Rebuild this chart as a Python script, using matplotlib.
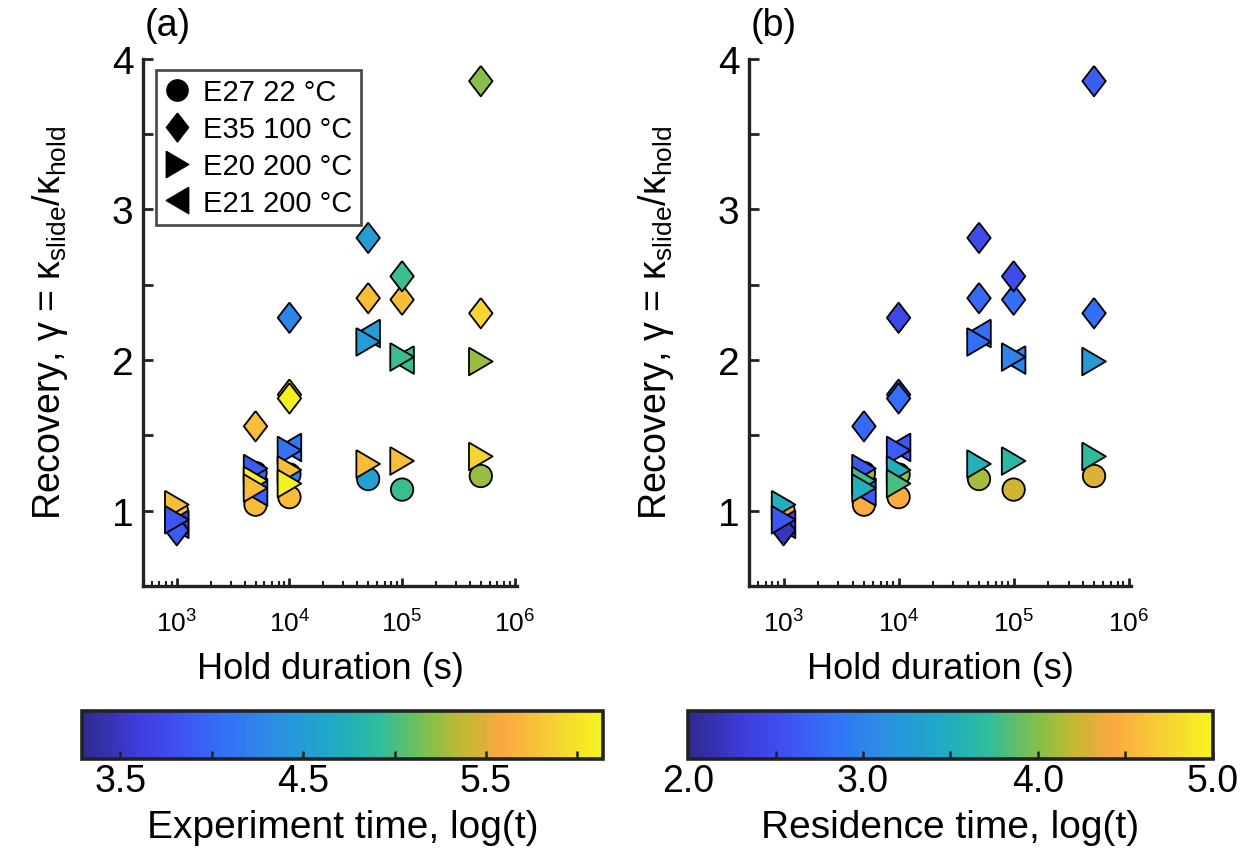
import matplotlib
matplotlib.use("Agg")
import matplotlib.pyplot as plt
from matplotlib.colors import LinearSegmentedColormap, Normalize
from matplotlib.cm import ScalarMappable
from matplotlib.lines import Line2D
from matplotlib.ticker import LogLocator, FixedLocator, FixedFormatter, NullFormatter

plt.rcParams['font.family'] = ['Liberation Sans', 'DejaVu Sans']
plt.rcParams['mathtext.fontset'] = 'custom'
plt.rcParams['mathtext.rm'] = 'Liberation Sans'
plt.rcParams['mathtext.it'] = 'Liberation Sans:italic'
plt.rcParams['mathtext.default'] = 'regular'

# E27 22 C (circles)
e27_hold = [1e3, 5e3, 5e3, 1e4, 1e4, 5e4, 1e5, 5e5]
e27_rec = [1.00, 1.04, 1.25, 1.09, 1.24, 1.21, 1.14, 1.23]
e27_exp = [5.75, 5.72, 3.95, 5.72, 4.20, 4.55, 4.95, 5.25]
e27_res = [4.45, 4.45, 4.05, 4.45, 4.05, 4.10, 4.25, 4.30]

# E21 200 C (left triangles)
e21_hold = [1e3, 5e3, 1e4, 5e4, 1e5]
e21_rec = [0.91, 1.125, 1.42, 2.176, 2.00]
e21_exp = [3.60, 3.95, 4.15, 4.50, 4.95]
e21_res = [2.30, 2.60, 2.60, 2.80, 3.00]

# E35 100 C (diamonds)
e35_hold = [1e3, 5e3, 1e4, 1e4, 1e4, 5e4, 5e4, 1e5, 1e5, 5e5, 5e5]
e35_rec = [0.87, 1.56, 1.77, 1.745, 2.28, 2.41, 2.81, 2.40, 2.555, 2.31, 3.85]
e35_exp = [3.90, 5.75, 5.75, 6.10, 4.25, 5.75, 4.50, 5.75, 4.95, 5.90, 5.20]
e35_res = [2.20, 2.75, 2.60, 2.80, 2.45, 2.75, 2.50, 2.80, 2.50, 2.80, 2.65]

# E20 200 C (right triangles)
e20_hold = [1e3, 1e3, 5e3, 5e3, 5e3, 1e4, 1e4, 1e4, 5e4, 5e4, 1e5, 1e5, 5e5, 5e5]
e20_rec = [1.04, 0.94, 1.28, 1.20, 1.15, 1.40, 1.27, 1.18, 2.12, 1.31, 2.02, 1.33, 1.99, 1.36]
e20_exp = [5.75, 3.85, 3.90, 6.10, 5.72, 4.10, 5.75, 6.10, 4.50, 5.75, 4.95, 5.75, 5.25, 5.90]
e20_res = [3.50, 2.60, 2.60, 3.75, 3.50, 2.65, 3.50, 3.80, 2.80, 3.55, 3.00, 3.65, 3.25, 3.70]

legend_labels = ['E27 22 °C', 'E35 100 °C', 'E20 200 °C', 'E21 200 °C']

# parula-like colormap
cmap = LinearSegmentedColormap.from_list('parula_like', [
    (0.00, '#2e2a8c'), (0.10, '#3d3bd9'), (0.18, '#4050f0'), (0.27, '#3470f8'),
    (0.38, '#2a92e0'), (0.48, '#1ea9c8'), (0.57, '#2fbc9c'), (0.66, '#7cc050'),
    (0.73, '#c0b932'), (0.81, '#fba93f'), (0.90, '#f6cd35'), (1.00, '#f6f51f')])

diamond = [(0, 1), (0.77, 0), (0, -1), (-0.77, 0), (0, 1)]
tri_r = [(-0.85, 1), (0.85, 0), (-0.85, -1), (-0.85, 1)]
tri_l = [(0.85, 1), (-0.85, 0), (0.85, -1), (0.85, 1)]

groups = [
    (e27_hold, e27_rec, e27_exp, e27_res, 'o', 260),
    (e21_hold, e21_rec, e21_exp, e21_res, tri_l, 400),
    (e35_hold, e35_rec, e35_exp, e35_res, diamond, 480),
    (e20_hold, e20_rec, e20_exp, e20_res, tri_r, 400),
]
legend_order = [0, 2, 3, 1]

fig = plt.figure(figsize=(12.49, 8.54), dpi=100)
ax_a = fig.add_axes([0.1145, 0.3126, 0.2994, 0.6177])
ax_b = fig.add_axes([0.5997, 0.3126, 0.3058, 0.6177])

norm_a = Normalize(3.29, 6.14)
norm_b = Normalize(2.0, 5.0)

for ax, idx, norm in [(ax_a, 2, norm_a), (ax_b, 3, norm_b)]:
    for g in groups:
        ax.scatter(g[0], g[1], c=g[idx], cmap=cmap, norm=norm, marker=g[4], s=g[5],
                   edgecolors='black', linewidths=1.3, zorder=3)
    ax.set_xscale('log')
    ax.set_xlim(10 ** 2.7, 10 ** 6.02)
    ax.set_ylim(0.5, 4)
    ax.spines['top'].set_visible(False)
    ax.spines['right'].set_visible(False)
    for s in ['left', 'bottom']:
        ax.spines[s].set_linewidth(2.4)
        ax.spines[s].set_color('#222222')
    ax.xaxis.set_major_locator(LogLocator(base=10, numticks=10))
    ax.xaxis.set_minor_locator(LogLocator(base=10, subs=range(2, 10), numticks=10))
    ax.xaxis.set_minor_formatter(NullFormatter())
    ax.yaxis.set_major_locator(FixedLocator([1, 2, 3, 4]))
    ax.yaxis.set_minor_locator(FixedLocator([1.5, 2.5, 3.5]))
    ax.tick_params(axis='both', which='both', direction='in', color='#222222')
    ax.tick_params(axis='y', which='both', length=7, width=2, labelsize=28, pad=7)
    ax.tick_params(axis='x', which='major', length=6, width=2, labelsize=19, pad=17)
    ax.tick_params(axis='x', which='minor', length=3.5, width=1.5)
    ax.set_xlabel('Hold duration (s)', fontsize=26, labelpad=10)
    ax.set_ylabel('Recovery, γ = κ$_{slide}$/κ$_{hold}$', fontsize=27, labelpad=30)

ax_a.text(0.005, 1.03, '(a)', transform=ax_a.transAxes, fontsize=27, ha='left', va='bottom')
ax_b.text(0.005, 1.03, '(b)', transform=ax_b.transAxes, fontsize=27, ha='left', va='bottom')

handles = [Line2D([], [], linestyle='none', marker=groups[i][4], color='black',
                  markersize=groups[i][5] ** 0.5 * 0.95) for i in legend_order]
leg = ax_a.legend(handles, legend_labels, loc='upper left', bbox_to_anchor=(0.02, 0.99),
                  fontsize=21, frameon=True, fancybox=False, handlelength=0.8,
                  handletextpad=0.5, labelspacing=0.3, borderpad=0.3, borderaxespad=0.2)
leg.get_frame().set_edgecolor('#222222')
leg.get_frame().set_linewidth(2)

cax_a = fig.add_axes([0.0657, 0.110, 0.417, 0.056])
cax_b = fig.add_axes([0.551, 0.110, 0.420, 0.056])
cb_a = fig.colorbar(ScalarMappable(norm=norm_a, cmap=cmap), cax=cax_a, orientation='horizontal')
cb_b = fig.colorbar(ScalarMappable(norm=norm_b, cmap=cmap), cax=cax_b, orientation='horizontal')

ticks_a = [3.5, 4.0, 4.5, 5.0, 5.5, 6.0]
labels_a = ['3.5', '', '4.5', '', '5.5', '']
ticks_b = [2.0, 2.5, 3.0, 3.5, 4.0, 4.5, 5.0]
labels_b = ['2.0', '', '3.0', '', '4.0', '', '5.0']

for cb, cax, ticks, labels, title in [
        (cb_a, cax_a, ticks_a, labels_a, 'Experiment time, log(t)'),
        (cb_b, cax_b, ticks_b, labels_b, 'Residence time, log(t)')]:
    cb.outline.set_linewidth(2.6)
    cb.outline.set_edgecolor('#222222')
    cax.xaxis.set_major_locator(FixedLocator(ticks))
    cax.xaxis.set_major_formatter(FixedFormatter(labels))
    cax.minorticks_off()
    cax.tick_params(axis='x', direction='in', length=6, width=1.8, color='#222222',
                    labelsize=27, pad=3)
    cax.set_xlabel(title, fontsize=28, labelpad=7)

fig.savefig('out.png', dpi=100)
